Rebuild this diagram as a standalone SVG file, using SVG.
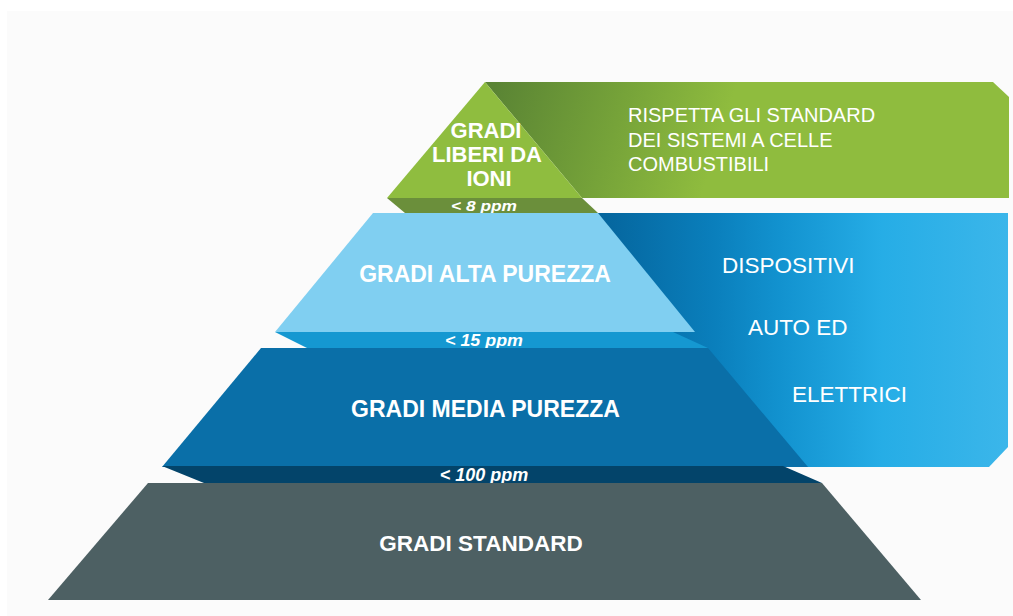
<svg xmlns="http://www.w3.org/2000/svg" width="1013" height="616" viewBox="0 0 1013 616">
<defs>
<linearGradient id="gGreen" gradientUnits="userSpaceOnUse" x1="490" y1="100" x2="710" y2="170">
<stop offset="0" stop-color="#5a8434"/>
<stop offset="0.55" stop-color="#76a339"/>
<stop offset="1" stop-color="#8fbc3e"/>
</linearGradient>
<linearGradient id="gBlue" gradientUnits="userSpaceOnUse" x1="600" y1="0" x2="1008" y2="0">
<stop offset="0" stop-color="#05659d"/>
<stop offset="0.28" stop-color="#0a7fbc"/>
<stop offset="0.44" stop-color="#1292cf"/>
<stop offset="0.69" stop-color="#26ade6"/>
<stop offset="1" stop-color="#3bb6ea"/>
</linearGradient>
<style>
.lbl{font-family:"Liberation Sans",Arial,sans-serif;font-weight:bold;fill:#ffffff;text-anchor:middle}
.ppm{font-family:"Liberation Sans",Arial,sans-serif;font-weight:bold;font-style:italic;fill:#ffffff;text-anchor:middle}
.side{font-family:"Liberation Sans",Arial,sans-serif;fill:#ffffff}
</style>
</defs>
<rect x="0" y="0" width="1013" height="616" fill="#ffffff"/>
<rect x="7" y="11" width="1006" height="605" fill="#fbfbfb"/>

<g id="box-celle">
<polygon points="485,82 993,82 1009,97 1009,198 582,198" fill="url(#gGreen)"/>
<text class="side" font-size="20" x="628" y="122">RISPETTA GLI STANDARD</text>
<text class="side" font-size="20" x="628" y="146.5">DEI SISTEMI A CELLE</text>
<text class="side" font-size="20" x="628" y="171">COMBUSTIBILI</text>
</g>

<g id="box-dispositivi">
<polygon points="598,213 1008,213 1008,447 989,467 600,467" fill="url(#gBlue)"/>
<text class="side" font-size="22.5" x="722" y="273">DISPOSITIVI</text>
<text class="side" font-size="22.5" x="748" y="335">AUTO ED</text>
<text class="side" font-size="22.5" x="792" y="402">ELETTRICI</text>
</g>

<g id="gradi-liberi">
<polygon points="485,82 582,198 387,198" fill="#8fbd3f"/>
<polygon points="387,198 582,198 598,213 405,213" fill="#6b8f3b"/>
<text class="lbl" font-size="22" x="486" y="138">GRADI</text>
<text class="lbl" font-size="22" x="487" y="162">LIBERI DA</text>
<text class="lbl" font-size="22" x="489" y="186">IONI</text>
<text class="ppm" font-size="15.5" x="484" y="211" textLength="66" lengthAdjust="spacingAndGlyphs">&lt; 8 ppm</text>
</g>

<g id="gradi-alta">
<polygon points="373,213 598,213 695,332 275,332" fill="#80cff1"/>
<polygon points="275,332 673,332 708,348 307,348" fill="#1598d1"/>
<text class="lbl" font-size="23" x="485" y="282">GRADI ALTA PUREZZA</text>
<text class="ppm" font-size="17" x="484" y="346" textLength="78" lengthAdjust="spacingAndGlyphs">&lt; 15 ppm</text>
</g>

<g id="gradi-media">
<polygon points="261,348 708,348 808,467 162,467" fill="#0a6fa8"/>
<polygon points="162,466 783,466 822,483 204,483" fill="#03446a"/>
<text class="lbl" font-size="23" x="485.5" y="417">GRADI MEDIA PUREZZA</text>
<text class="ppm" font-size="18" x="484" y="481">&lt; 100 ppm</text>
</g>

<g id="gradi-standard">
<polygon points="148,483 822,483 921,600 48,600" fill="#4d6063"/>
<text class="lbl" font-size="22.5" x="481" y="551">GRADI STANDARD</text>
</g>
</svg>
